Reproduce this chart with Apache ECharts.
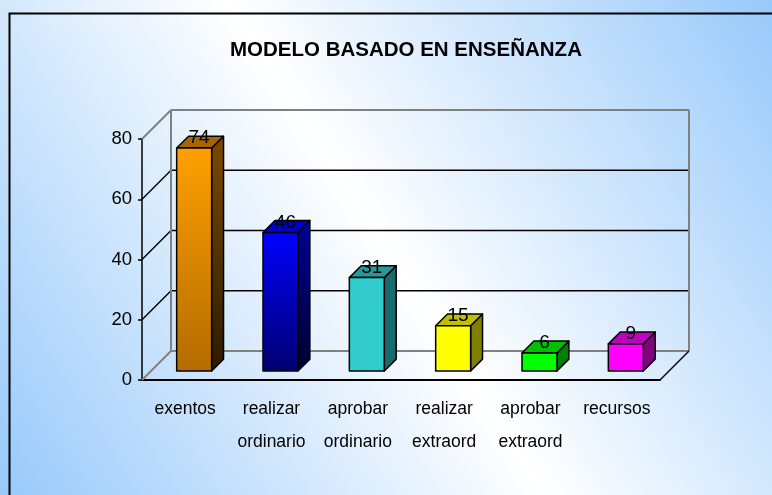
<!DOCTYPE html>
<html>
<head>
<meta charset="utf-8">
<script src="https://cdn.jsdelivr.net/npm/echarts@6/dist/echarts.min.js"></script>
<style>
  html, body { margin: 0; padding: 0; }
  #chart { width: 772px; height: 495px; }
</style>
</head>
<body>
<div id="chart"></div>
<script>
// datos del grafico
const categories = ['exentos', 'realizar\nordinario', 'aprobar\nordinario', 'realizar\nextraord', 'aprobar\nextraord', 'recursos'];
const values = [74, 46, 31, 15, 6, 9];
const yTicks = [0, 20, 40, 60, 80];

// colores de cada barra: cara frontal (arriba, abajo), lateral (arriba, abajo), tapa
const frontColors = [['#ffa000', '#b46c00'], ['#0000ff', '#000070'], ['#33cccc', '#33cccc'], ['#ffff00', '#ffff00'], ['#00ff00', '#00ff00'], ['#ff00ff', '#ff00ff']];
const sideColors = [['#7c4a00', '#2c1a00'], ['#000098', '#000030'], ['#1a6b6b', '#1a6b6b'], ['#808000', '#808000'], ['#008000', '#008000'], ['#800080', '#800080']];
const topColors = ['#a86400', '#0000c0', '#269999', '#c0c000', '#00c000', '#c000c0'];

const FONT = "'Liberation Sans', Arial, sans-serif";
const DEPTH = 29;

const chart = echarts.init(document.getElementById('chart'));

function grad(c) {
  return new echarts.graphic.LinearGradient(0, 0, 0, 1, [
    { offset: 0, color: c[0] },
    { offset: 1, color: c[1] }
  ]);
}

// pared del fondo y suelo en perspectiva
function renderWalls(params, api) {
  const n = categories.length;
  const bw = api.size([1, 0])[0];
  const left = api.coord([0, 0])[0] - bw / 2;
  const right = api.coord([n - 1, 0])[0] + bw / 2;
  const yTop = api.coord([0, yTicks[yTicks.length - 1]])[1];
  const y0 = api.coord([0, 0])[1];
  const children = [];
  yTicks.forEach(function (t, k) {
    const y = api.coord([0, t])[1];
    const edge = k === 0 || k === yTicks.length - 1;
    const style = { stroke: edge ? '#808080' : '#000', lineWidth: edge ? 2 : 1.5 };
    children.push({ type: 'line', shape: { x1: left, y1: y, x2: left + DEPTH, y2: y - DEPTH }, style: style });
    children.push({ type: 'line', shape: { x1: left + DEPTH, y1: y - DEPTH, x2: right + DEPTH, y2: y - DEPTH }, style: style });
  });
  [left, right].forEach(function (x) {
    children.push({ type: 'line', shape: { x1: x + DEPTH, y1: yTop - DEPTH, x2: x + DEPTH, y2: y0 - DEPTH }, style: { stroke: '#808080', lineWidth: 2 } });
  });
  children.push({ type: 'line', shape: { x1: right, y1: y0, x2: right + DEPTH, y2: y0 - DEPTH }, style: { stroke: '#000', lineWidth: 1.5 } });
  return { type: 'group', children: children };
}

// barra 3D: frente, lateral, tapa y etiqueta
function renderBar(params, api) {
  const i = api.value(0);
  const v = api.value(1);
  const base = api.coord([i, 0]);
  const top = api.coord([i, v]);
  const bw = api.size([1, 0])[0];
  const w = bw * 0.405;
  const off = DEPTH * 0.31;
  const d = DEPTH * 0.41;
  const x0 = base[0] + off - w / 2;
  const x1 = x0 + w;
  const yb = base[1] - off;
  const yt = top[1] - off;
  const line = { stroke: '#000', lineWidth: 1.5, lineJoin: 'round' };
  return {
    type: 'group',
    children: [
      { type: 'polygon', shape: { points: [[x1, yb], [x1 + d, yb - d], [x1 + d, yt - d], [x1, yt]] },
        style: Object.assign({ fill: grad(sideColors[i]) }, line) },
      { type: 'polygon', shape: { points: [[x0, yt], [x0 + d, yt - d], [x1 + d, yt - d], [x1, yt]] },
        style: Object.assign({ fill: topColors[i] }, line) },
      { type: 'rect', shape: { x: x0, y: yt, width: w, height: yb - yt },
        style: Object.assign({ fill: grad(frontColors[i]) }, line) },
      { type: 'text', style: { x: (x0 + x1) / 2 + d / 2 - 1, y: yt - d / 2 - 4, text: String(v),
        fill: '#000', font: '19px ' + FONT, textAlign: 'center', textVerticalAlign: 'middle' } }
    ]
  };
}

const option = {
  animation: false,
  backgroundColor: new echarts.graphic.LinearGradient(0, 1, 1, 0, [
    { offset: 0, color: '#98c9fa' },
    { offset: 0.5, color: '#ffffff' },
    { offset: 1, color: '#98c9fa' }
  ]),
  title: {
    text: 'MODELO BASADO EN ENSEÑANZA',
    left: 225,
    top: 35,
    textStyle: { fontFamily: FONT, fontSize: 20.5, fontWeight: 'bold', color: '#000' }
  },
  graphic: [{
    type: 'rect', left: 7, top: 11, z: 100,
    shape: { width: 800, height: 500 },
    style: { fill: 'none', stroke: '#000', lineWidth: 2 }
  }],
  grid: { left: 142, right: 112, top: 139, bottom: 115, containLabel: false },
  xAxis: {
    type: 'category',
    data: categories,
    axisLine: { lineStyle: { color: '#000', width: 2 } },
    axisTick: { length: 6, lineStyle: { color: '#000', width: 1.5 } },
    axisLabel: { interval: 0, color: '#000', fontFamily: FONT, fontSize: 17.5, lineHeight: 33, margin: 13 },
    splitLine: { show: false }
  },
  yAxis: {
    type: 'value',
    min: 0,
    max: yTicks[yTicks.length - 1],
    interval: yTicks[1] - yTicks[0],
    axisLine: { show: true, lineStyle: { color: '#000', width: 1.5 } },
    axisTick: { show: true, length: 4, lineStyle: { color: '#000', width: 1.5 } },
    axisLabel: { color: '#000', fontFamily: FONT, fontSize: 18.5, margin: 10 },
    splitLine: { show: false }
  },
  series: [
    {
      type: 'custom',
      renderItem: renderWalls,
      data: [[0, 0]],
      clip: false,
      silent: true,
      z: 1
    },
    {
      type: 'custom',
      renderItem: renderBar,
      data: values.map(function (v, i) { return [i, v]; }),
      clip: false,
      z: 2
    }
  ]
};

chart.setOption(option);
</script>
</body>
</html>
